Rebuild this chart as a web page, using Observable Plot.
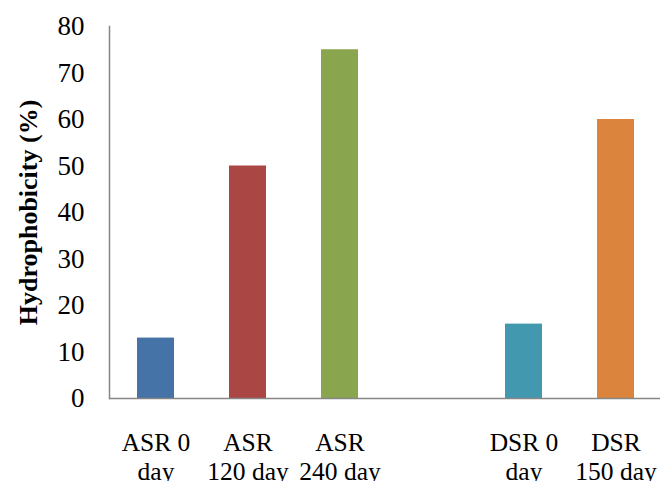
<!DOCTYPE html>
<html>
<head>
<meta charset="utf-8">
<script src="https://cdn.jsdelivr.net/npm/d3@7"></script>
<script src="https://cdn.jsdelivr.net/npm/@observablehq/plot@0.6"></script>
<style>
  html, body { margin: 0; padding: 0; background: #fff; }
  #chart svg { display: block; }
</style>
</head>
<body>
<div id="chart"></div>
<script>
const categories = ["ASR 0 day", "ASR 120 day", "ASR 240 day", "DSR 0 day", "DSR 150 day"];
const values = [13, 50, 75, 16, 60];
const tickLabels = ["ASR 0\nday", "ASR\n120 day", "ASR\n240 day", "DSR 0\nday", "DSR\n150 day"];
const colors = ["#4572A7", "#AA4643", "#89A54E", "#4198AF", "#DB843D"];
const xDomain = ["ASR 0 day", "ASR 120 day", "ASR 240 day", "gap", "DSR 0 day", "DSR 150 day"];
const yTicks = [0, 10, 20, 30, 40, 50, 60, 70, 80];
const yTitle = "Hydrophobicity (%)";

const data = categories.map((c, i) => ({category: c, value: values[i]}));
const labelOf = new Map(categories.map((c, i) => [c, tickLabels[i]]));
const font = "'Liberation Serif', 'Times New Roman', serif";

const chart = Plot.plot({
  width: 660,
  height: 481,
  marginLeft: 109,
  marginRight: -2,
  marginTop: 26,
  marginBottom: 83,
  style: {fontFamily: font, background: "#fff", color: "#000"},
  x: {domain: xDomain, paddingInner: 0.6, paddingOuter: 0.3, axis: null},
  y: {domain: [0, 80], axis: null},
  color: {domain: categories, range: colors},
  marks: [
    Plot.barY(data, {x: "category", y: "value", fill: "category"}),
    Plot.axisY({ticks: yTicks, tickSize: 0, tickPadding: 25, fontSize: 27, label: null}),
    Plot.axisX({tickSize: 0, tickPadding: 31, fontSize: 25.5, lineHeight: 1.16, label: null,
      tickFormat: d => labelOf.get(d) ?? ""}),
    Plot.text([yTitle], {frameAnchor: "left", text: d => d, rotate: -90, dx: -81,
      fontSize: 26, fontWeight: "bold", textAnchor: "middle"}),
    Plot.frame({anchor: "left", stroke: "#868686", strokeWidth: 1.5}),
    Plot.ruleY([0], {stroke: "#868686", strokeWidth: 1.5})
  ]
});
document.getElementById("chart").appendChild(chart);
</script>
</body>
</html>
